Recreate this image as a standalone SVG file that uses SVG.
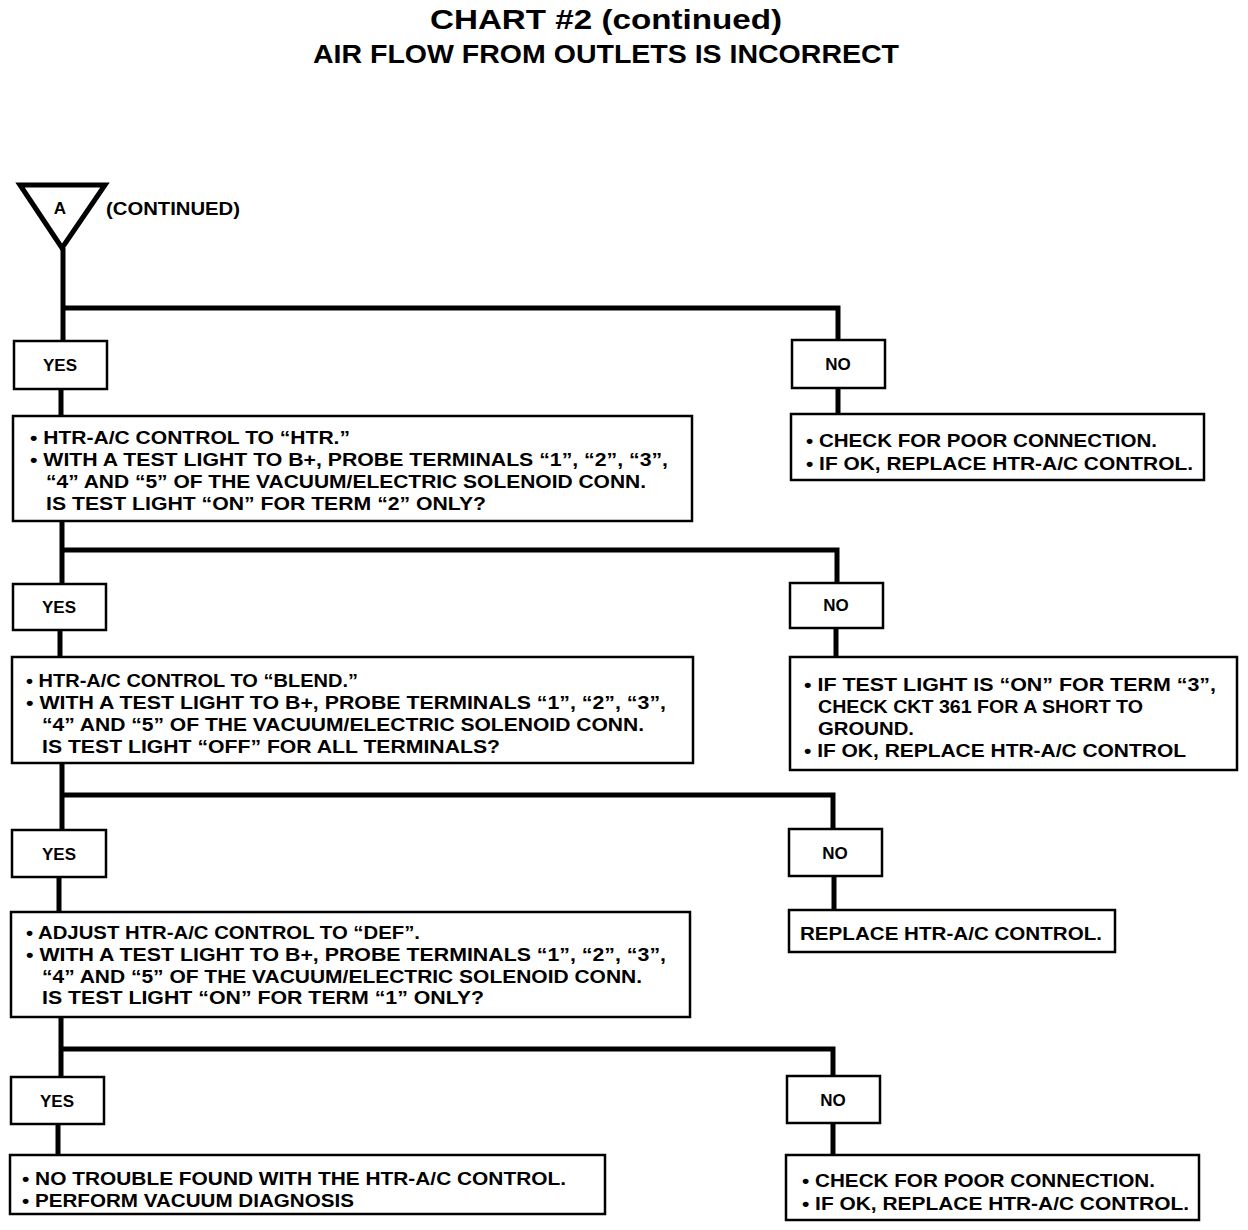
<svg xmlns="http://www.w3.org/2000/svg" width="1248" height="1230" viewBox="0 0 1248 1230">
<style>
.bg{fill:#fff}
.box{fill:#fff;stroke:#000;stroke-width:2.5}
.con{fill:none;stroke:#000;stroke-width:5;stroke-linejoin:miter;stroke-linecap:butt}
.t{font-family:"Liberation Sans",Arial,sans-serif;font-weight:bold;font-size:18px;fill:#000}
.lbl{font-family:"Liberation Sans",Arial,sans-serif;font-weight:bold;font-size:17px;fill:#000;text-anchor:middle}
.title{font-family:"Liberation Sans",Arial,sans-serif;font-weight:bold;fill:#000;text-anchor:middle}
</style>
<rect class="bg" x="0" y="0" width="1248" height="1230"/>
<g id="title">
<text class="title" x="606" y="29" font-size="28" textLength="352" lengthAdjust="spacingAndGlyphs">CHART #2 (continued)</text>
<text class="title" x="606" y="63" font-size="25" textLength="586" lengthAdjust="spacingAndGlyphs">AIR FLOW FROM OUTLETS IS INCORRECT</text>
</g>
<g id="connectors">
<path class="con" d="M63 248 V341 M63 308 H838 V340"/>
<path class="con" d="M61 389 V416 M838 388 V414"/>
<path class="con" d="M62 521 V584 M62 550 H837 V583"/>
<path class="con" d="M60 630 V657 M836 628 V657"/>
<path class="con" d="M62 763 V830 M62 795 H833 V829"/>
<path class="con" d="M59 877 V912 M834 876 V910"/>
<path class="con" d="M61 1017 V1077 M61 1049 H833 V1076"/>
<path class="con" d="M58 1124 V1155 M833 1123 V1155"/>
</g>
<g id="startA">
<polygon points="20,185 105,185 62,248" fill="#fff" stroke="#000" stroke-width="5" stroke-linejoin="miter"/>
<text class="lbl" x="60" y="214" font-size="16">A</text>
<text class="t" x="106" y="215" font-size="16" textLength="134" lengthAdjust="spacingAndGlyphs">(CONTINUED)</text>
</g>
<g id="yes1"><rect class="box" x="14" y="341" width="93" height="48"/><text class="lbl" x="60" y="371">YES</text></g>
<g id="no1"><rect class="box" x="792" y="340" width="93" height="48"/><text class="lbl" x="838" y="370">NO</text></g>
<g id="step1">
<rect class="box" x="13" y="416" width="679" height="105"/>
<text class="t" x="30" y="444" textLength="320" lengthAdjust="spacingAndGlyphs">• HTR-A/C CONTROL TO “HTR.”</text>
<text class="t" x="30" y="466" textLength="638" lengthAdjust="spacingAndGlyphs">• WITH A TEST LIGHT TO B+, PROBE TERMINALS “1”, “2”, “3”,</text>
<text class="t" x="46" y="488" textLength="600" lengthAdjust="spacingAndGlyphs">“4” AND “5” OF THE VACUUM/ELECTRIC SOLENOID CONN.</text>
<text class="t" x="46" y="510" textLength="440" lengthAdjust="spacingAndGlyphs">IS TEST LIGHT “ON” FOR TERM “2” ONLY?</text>
</g>
<g id="noresult1">
<rect class="box" x="791" y="414" width="413" height="66"/>
<text class="t" x="806" y="447" textLength="351" lengthAdjust="spacingAndGlyphs">• CHECK FOR POOR CONNECTION.</text>
<text class="t" x="806" y="470" textLength="387" lengthAdjust="spacingAndGlyphs">• IF OK, REPLACE HTR-A/C CONTROL.</text>
</g>
<g id="yes2"><rect class="box" x="13" y="584" width="93" height="46"/><text class="lbl" x="59" y="613">YES</text></g>
<g id="no2"><rect class="box" x="790" y="583" width="93" height="45"/><text class="lbl" x="836" y="611">NO</text></g>
<g id="step2">
<rect class="box" x="12" y="657" width="681" height="106"/>
<text class="t" x="26" y="687" textLength="332" lengthAdjust="spacingAndGlyphs">• HTR-A/C CONTROL TO “BLEND.”</text>
<text class="t" x="26" y="709" textLength="640" lengthAdjust="spacingAndGlyphs">• WITH A TEST LIGHT TO B+, PROBE TERMINALS “1”, “2”, “3”,</text>
<text class="t" x="42" y="731" textLength="602" lengthAdjust="spacingAndGlyphs">“4” AND “5” OF THE VACUUM/ELECTRIC SOLENOID CONN.</text>
<text class="t" x="42" y="753" textLength="458" lengthAdjust="spacingAndGlyphs">IS TEST LIGHT “OFF” FOR ALL TERMINALS?</text>
</g>
<g id="noresult2">
<rect class="box" x="790" y="657" width="447" height="113"/>
<text class="t" x="804" y="691" textLength="412" lengthAdjust="spacingAndGlyphs">• IF TEST LIGHT IS “ON” FOR TERM “3”,</text>
<text class="t" x="818" y="713" textLength="325" lengthAdjust="spacingAndGlyphs">CHECK CKT 361 FOR A SHORT TO</text>
<text class="t" x="818" y="735" textLength="96" lengthAdjust="spacingAndGlyphs">GROUND.</text>
<text class="t" x="804" y="757" textLength="382" lengthAdjust="spacingAndGlyphs">• IF OK, REPLACE HTR-A/C CONTROL</text>
</g>
<g id="yes3"><rect class="box" x="12" y="830" width="94" height="47"/><text class="lbl" x="59" y="860">YES</text></g>
<g id="no3"><rect class="box" x="789" y="829" width="93" height="47"/><text class="lbl" x="835" y="859">NO</text></g>
<g id="step3">
<rect class="box" x="11" y="912" width="679" height="105"/>
<text class="t" x="26" y="939" textLength="394" lengthAdjust="spacingAndGlyphs">• ADJUST HTR-A/C CONTROL TO “DEF”.</text>
<text class="t" x="26" y="961" textLength="640" lengthAdjust="spacingAndGlyphs">• WITH A TEST LIGHT TO B+, PROBE TERMINALS “1”, “2”, “3”,</text>
<text class="t" x="42" y="983" textLength="600" lengthAdjust="spacingAndGlyphs">“4” AND “5” OF THE VACUUM/ELECTRIC SOLENOID CONN.</text>
<text class="t" x="42" y="1004" textLength="442" lengthAdjust="spacingAndGlyphs">IS TEST LIGHT “ON” FOR TERM “1” ONLY?</text>
</g>
<g id="noresult3">
<rect class="box" x="789" y="910" width="326" height="42"/>
<text class="t" x="800" y="940" textLength="302" lengthAdjust="spacingAndGlyphs">REPLACE HTR-A/C CONTROL.</text>
</g>
<g id="yes4"><rect class="box" x="11" y="1077" width="93" height="47"/><text class="lbl" x="57" y="1107">YES</text></g>
<g id="no4"><rect class="box" x="787" y="1076" width="93" height="47"/><text class="lbl" x="833" y="1106">NO</text></g>
<g id="yesresult4">
<rect class="box" x="10" y="1155" width="595" height="59"/>
<text class="t" x="22" y="1185" textLength="544" lengthAdjust="spacingAndGlyphs">• NO TROUBLE FOUND WITH THE HTR-A/C CONTROL.</text>
<text class="t" x="22" y="1207" textLength="332" lengthAdjust="spacingAndGlyphs">• PERFORM VACUUM DIAGNOSIS</text>
</g>
<g id="noresult4">
<rect class="box" x="786" y="1155" width="413" height="65"/>
<text class="t" x="802" y="1187" textLength="353" lengthAdjust="spacingAndGlyphs">• CHECK FOR POOR CONNECTION.</text>
<text class="t" x="802" y="1210" textLength="387" lengthAdjust="spacingAndGlyphs">• IF OK, REPLACE HTR-A/C CONTROL.</text>
</g>
</svg>
